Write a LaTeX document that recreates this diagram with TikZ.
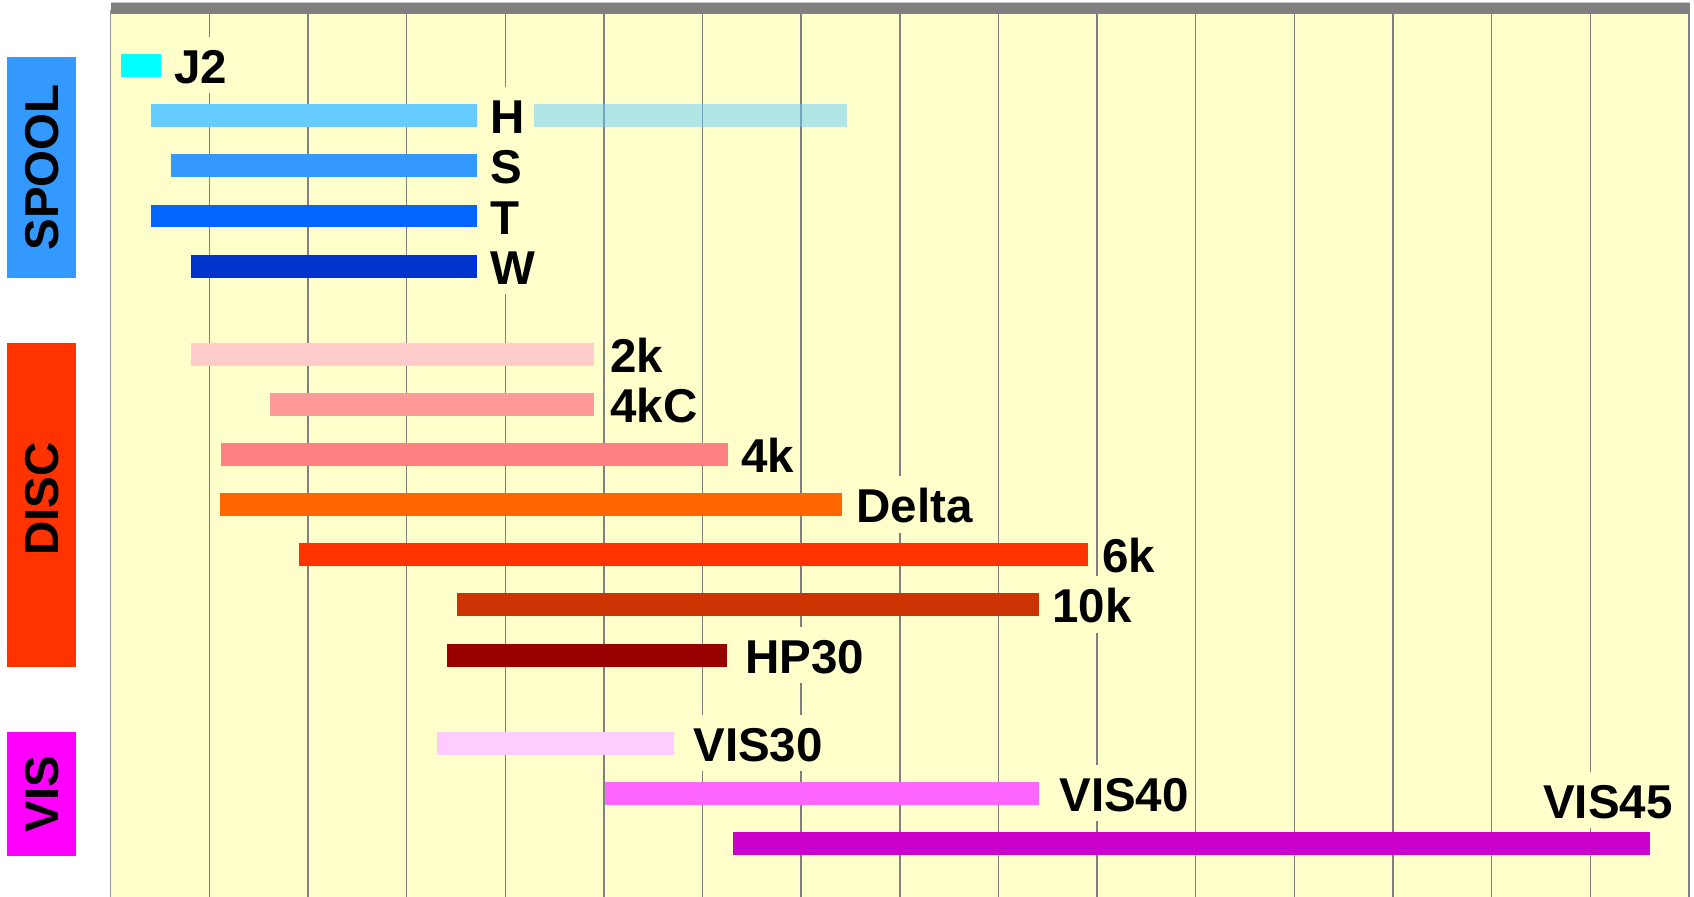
\documentclass[tikz,border=0pt]{standalone}
\usepackage{fontspec}
\setmainfont{Liberation Sans}
\definecolor{plotbg}{HTML}{FFFFCC}
\definecolor{gridgray}{HTML}{808080}
\definecolor{spoolbox}{HTML}{3399FF}
\definecolor{discbox}{HTML}{FF3300}
\definecolor{visbox}{HTML}{FF00FF}
\definecolor{barJ2}{HTML}{00FFFF}
\definecolor{barH}{HTML}{66CCFF}
\definecolor{barS}{HTML}{3399FF}
\definecolor{barT}{HTML}{0066FF}
\definecolor{barW}{HTML}{0033CC}
\definecolor{bar2k}{HTML}{FFCCCC}
\definecolor{bar4kC}{HTML}{FF9999}
\definecolor{bar4k}{HTML}{FF8080}
\definecolor{barDelta}{HTML}{FF6600}
\definecolor{bar6k}{HTML}{FF3300}
\definecolor{bar10k}{HTML}{CC3300}
\definecolor{barHP30}{HTML}{990000}
\definecolor{barVIS30}{HTML}{FFCCFF}
\definecolor{barVIS40}{HTML}{FF66FF}
\definecolor{barVIS45}{HTML}{CC00CC}
\tikzset{
  bigfont/.style={font=\bfseries\fontsize{23.75}{28}\selectfont},
  lab/.style={bigfont, anchor=base west, fill=plotbg, inner xsep=1pt, inner ysep=0pt,
    text height=23.3pt, text depth=5pt},
  gridline/.style={draw=gridgray, line width=0.75pt},
  grouplab/.style={bigfont, rotate=90, inner sep=0pt}
}
\begin{document}
\begin{tikzpicture}[x=0.5pt, y=-0.5pt]
\useasboundingbox (0,0) rectangle (1694,897);
\fill[plotbg] (110.7,14) rectangle (1689,897);
\foreach \i in {1,...,15}
  \draw[gridline] (110.7+\i*98.64,14) -- (110.7+\i*98.64,897);
\draw[gridline, draw=gridgray!80] (110.7,10) -- (110.7,897);
\draw[gridline] (1689,10) -- (1689,897);
\fill[gridgray] (111,3) rectangle (1690,14);
\draw[gray!40, line width=0.5pt] (111,2.5) -- (1690,2.5);
% groups
\fill[spoolbox] (7,57) rectangle (76,277.7);
\node[grouplab] (spool) at (42,167.4) {SPOOL};
\fill[discbox] (7,342.7) rectangle (76,666.7);
\node[grouplab] (disc) at (42,499) {DISC};
\fill[visbox] (7,732) rectangle (76,855.7);
\node[grouplab] (vis) at (42,793.8) {VIS};
% bars and their labels
\foreach \n/\t/\a/\b/\lx in {J2/54/121/161/176, H/104.3/151/477/492, S/154.5/171/477/492,
    T/204.7/151/477/492, W/255/191/477/492, 2k/343.3/191/594/612, 4kC/393.3/270/594/612,
    4k/443.3/221/728/743, Delta/493.3/220/842/858, 6k/543.3/299/1088/1104,
    10k/593.3/457/1039/1054, HP30/644/447/727/747, VIS30/732/437/674/695,
    VIS40/782/605/1039/1061}
  { \fill[bar\n] (\a,\t) rectangle (\b,\t+22.7);
    \node[lab] (l\n) at (\lx-4,\t+29.4) {\n}; }
\fill[barH, fill opacity=0.5] (534,104.3) rectangle (847,127);
\fill[barVIS45] (733,832) rectangle (1650,854.7);
\node[lab, anchor=base east] (lVIS45) at (1675,818.3) {VIS45};
\end{tikzpicture}
\end{document}
